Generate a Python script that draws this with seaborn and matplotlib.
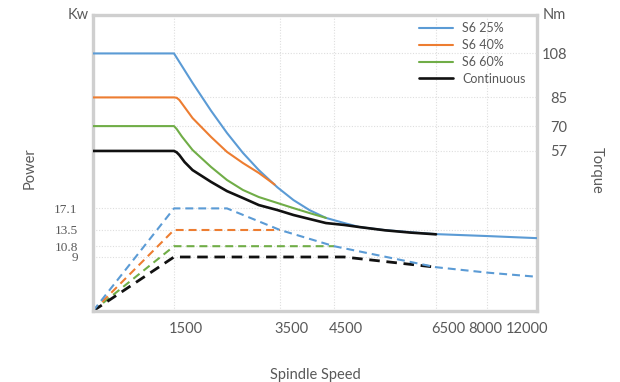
import numpy as np
import matplotlib
matplotlib.use("Agg")
import matplotlib.pyplot as plt
import matplotlib.transforms as mtransforms
import seaborn as sns

# torque curves (Nm) vs spindle speed (rpm)
s25_speed = [0, 1500, 1850, 2200, 2500, 2800, 3100, 3450, 3750, 4050, 4350, 4700, 5000, 5500, 6000, 6500, 8000, 12000]
s25_torque = [108, 108, 92.6, 78, 66.4, 56, 47, 38, 31.3, 26, 22, 19.3, 17.2, 15.6, 14.5, 13.5, 12.5, 11.4]
s40_speed = [0, 1500, 1550, 1600, 1850, 2200, 2500, 2800, 3100, 3400]
s40_torque = [85, 85, 84.8, 83.7, 74.2, 64.3, 56.5, 50.7, 45.5, 39.4]
s60_speed = [0, 1500, 1550, 1650, 1850, 2200, 2500, 2800, 3100, 3450, 3750, 4050, 4350]
s60_torque = [70, 70, 68.5, 64.5, 57.5, 48.6, 41.8, 36.6, 32.9, 29.8, 27.1, 24.5, 22]
cont_speed = [0, 1500, 1550, 1600, 1700, 1850, 2200, 2500, 2800, 3100, 3450, 3750, 4050, 4350, 4700, 5000, 5500, 6000, 6500]
cont_torque = [57, 57, 56.3, 54.9, 51.2, 47, 40.8, 36, 32.4, 28.7, 26.1, 23.5, 21.4, 19.3, 18.3, 17.2, 15.5, 14.3, 13.4]

# power curves (kW)
p25_speed = [0, 1500, 2500, 3500, 4500, 6500, 8000, 12000]
p25_power = [0, 17.1, 17.1, 13.5, 10.8, 7.3, 6.4, 5.7]
p40_speed = [0, 1500, 3500]
p40_power = [0, 13.5, 13.5]
p60_speed = [0, 1500, 4500]
p60_power = [0, 10.8, 10.8]
pc_speed = [0, 1500, 4700, 6500]
pc_power = [0, 9, 9, 7.3]

speed_ticks = [1500, 3500, 4500, 6500, 8000, 12000]
power_ticks = [9, 10.8, 13.5, 17.1]
torque_ticks = [57, 70, 85, 108]
series_names = ["S6 25%", "S6 40%", "S6 60%", "Continuous"]

colors = ["#5b9bd5", "#ed7d31", "#70ad47", "#111111"]
text_col = "#595959"

sns.set_style("white")
plt.rcParams["font.family"] = ["Lato", "DejaVu Sans"]

fig = plt.figure(figsize=(6.2, 3.82), dpi=100)
ax = fig.add_axes([93 / 620, 1 - 311 / 382, 444 / 620, 296 / 382])

# uneven speed axis
brk_speed = [0, 1500, 3500, 4500, 6500, 8000, 12000]
brk_pos = np.array([0, 81, 187, 241, 343, 394, 444]) / 444
ax.set_xscale("function", functions=(lambda v: np.interp(v, brk_speed, brk_pos),
                                     lambda u: np.interp(u, brk_pos, brk_speed)))
ax2 = ax.twinx()

# dashed power lines
dash = (0, (3.8, 2.4))
for sp, pw, c, lw in [(p60_speed, p60_power, colors[2], 1.5),
                      (p40_speed, p40_power, colors[1], 1.5),
                      (pc_speed, pc_power, colors[3], 2.0),
                      (p25_speed, p25_power, colors[0], 1.5)]:
    sns.lineplot(x=sp, y=pw, ax=ax, color=c, lw=lw, linestyle=dash, estimator=None)

# solid torque lines
for sp, tq, c, lw, name in [(s25_speed, s25_torque, colors[0], 1.5, series_names[0]),
                            (s40_speed, s40_torque, colors[1], 1.5, series_names[1]),
                            (s60_speed, s60_torque, colors[2], 1.5, series_names[2]),
                            (cont_speed, cont_torque, colors[3], 1.9, series_names[3])]:
    sns.lineplot(x=sp, y=tq, ax=ax2, color=c, lw=lw, estimator=None, label=name)

ax.set_xlim(0, 12000)
ax.set_ylim(0, 49.33)
ax2.set_ylim(-26.7, 128.1)

ax.set_xticks(speed_ticks)
ax.set_xticklabels([str(s) for s in speed_ticks])
ax.xaxis.set_minor_locator(matplotlib.ticker.NullLocator())
ax.set_yticks(power_ticks)
ax.set_yticklabels(["9", "10.8", "13.5", "17.1"], family=["Liberation Serif", "DejaVu Serif"], fontsize=9.5)
ax2.set_yticks(torque_ticks)
ax2.set_yticklabels([str(t) for t in torque_ticks], fontsize=10.5)

ax.tick_params(axis="x", length=0, pad=8, labelsize=10.5, colors=text_col)
ax.tick_params(axis="y", length=0, pad=11, colors=text_col)
ax2.tick_params(axis="y", length=0, pad=22, colors=text_col)
for lab in ax2.get_yticklabels():
    lab.set_horizontalalignment("right")

# x labels sit slightly off their grid lines in the original
offsets_pt = [8.6, 8.6, 8.6, 8.6, -1.4, -7.2]
for lab, dx in zip(ax.get_xticklabels(), offsets_pt):
    lab.set_transform(lab.get_transform() + mtransforms.ScaledTranslation(dx / 72, 0, fig.dpi_scale_trans))

grid_kw = dict(color="#dedede", linestyle=(0, (1, 1.5)), linewidth=0.8)
ax.grid(axis="x", **grid_kw)
ax.grid(axis="y", **grid_kw)
ax2.grid(axis="y", **grid_kw)
ax.set_axisbelow(True)

for sp in ax.spines.values():
    sp.set_color("#cfcfcf")
    sp.set_linewidth(2.4)
for sp in ax2.spines.values():
    sp.set_visible(False)

ax.set_xlabel("Spindle Speed", fontsize=10.5, color=text_col)
ax.xaxis.set_label_coords(0.5, -0.193)
ax.set_ylabel("Power", fontsize=10.5, color=text_col, va="center", ha="center")
ax.yaxis.set_label_coords(-0.142, 0.483)
ax2.set_ylabel("Torque", fontsize=10.5, color=text_col, rotation=-90, va="center", ha="center")
ax2.yaxis.set_label_coords(1.135, 0.476)

ax.text(-0.009, 1.0, "Kw", transform=ax.transAxes, ha="right", va="center", fontsize=10.5, color=text_col)
ax.text(1.0135, 1.0, "Nm", transform=ax.transAxes, ha="left", va="center", fontsize=10.5, color=text_col)

leg = ax2.legend(loc="upper left", bbox_to_anchor=(0.734, 0.975), frameon=False, fontsize=9,
                 handlelength=2.7, handletextpad=0.75, labelspacing=0.38, borderpad=0, borderaxespad=0)
for t in leg.get_texts():
    t.set_color(text_col)

fig.savefig("out.png", dpi=100)
